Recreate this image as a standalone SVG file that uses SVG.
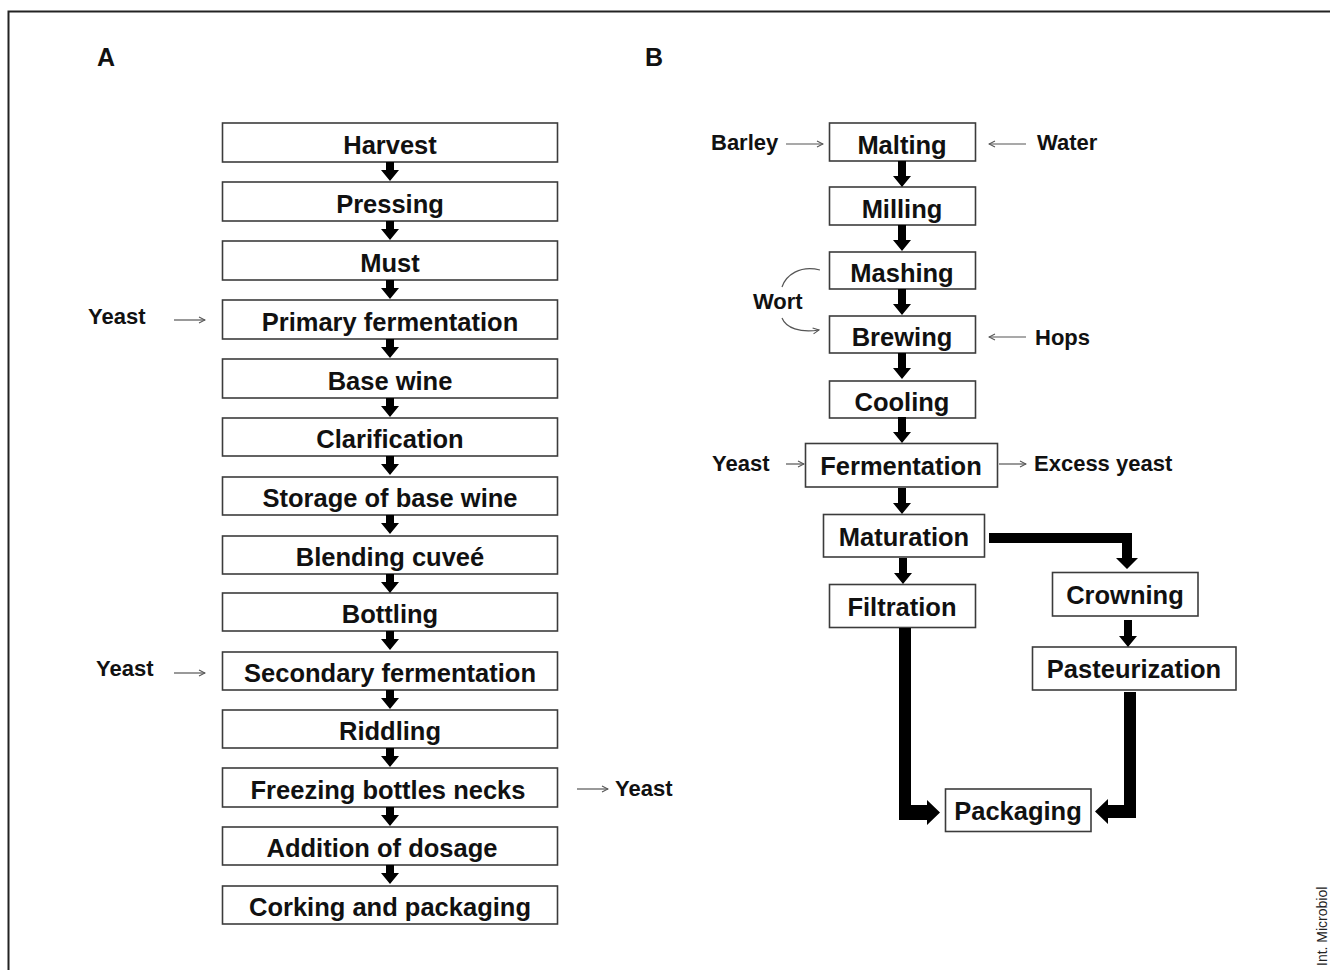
<svg xmlns="http://www.w3.org/2000/svg" width="1330" height="970" viewBox="0 0 1330 970">
<style>
.box{fill:#fff;stroke:#3c3c3c;stroke-width:1.6}
.t{font-family:"Liberation Sans",Arial,sans-serif;font-weight:bold;font-size:25.5px;fill:#111;text-anchor:middle}
.s{font-family:"Liberation Sans",Arial,sans-serif;font-weight:bold;font-size:22px;fill:#111}
.thin{fill:none;stroke:#555;stroke-width:1.2}
.blk{fill:#000}
</style>
<defs>
<path id="sa" d="M-4,0 h8 v8 h5 l-9,11 l-9,-11 h5 z"/>
<path id="sb" d="M-4,0 h8 v15 h5 l-9,11 l-9,-11 h5 z"/>
<marker id="oa" viewBox="0 0 8 8" refX="7" refY="4" markerWidth="8" markerHeight="8" markerUnits="userSpaceOnUse" orient="auto">
<path d="M1,1 L7,4 L1,7" fill="none" stroke="#555" stroke-width="1.1"/>
</marker>
</defs>
<rect width="1330" height="970" fill="#fff"/>
<path d="M8.5,970 V11.5 H1330" fill="none" stroke="#222" stroke-width="2"/>
<text x="97" y="66" class="s" style="font-size:25px">A</text>
<text x="645" y="66" class="s" style="font-size:25px">B</text>

<g id="a-harvest"><rect class="box" x="222.5" y="123" width="335" height="39"/><text class="t" x="390" y="154">Harvest</text></g>
<g id="a-pressing"><rect class="box" x="222.5" y="182" width="335" height="39"/><text class="t" x="390" y="213">Pressing</text></g>
<g id="a-must"><rect class="box" x="222.5" y="241" width="335" height="39"/><text class="t" x="390" y="272">Must</text></g>
<g id="a-primary"><rect class="box" x="222.5" y="300" width="335" height="39"/><text class="t" x="390" y="331">Primary fermentation</text></g>
<g id="a-base"><rect class="box" x="222.5" y="359" width="335" height="39"/><text class="t" x="390" y="390">Base wine</text></g>
<g id="a-clar"><rect class="box" x="222.5" y="418" width="335" height="38"/><text class="t" x="390" y="448">Clarification</text></g>
<g id="a-storage"><rect class="box" x="222.5" y="477" width="335" height="38"/><text class="t" x="390" y="507">Storage of base wine</text></g>
<g id="a-blend"><rect class="box" x="222.5" y="536" width="335" height="38"/><text class="t" x="390" y="566">Blending cuveé</text></g>
<g id="a-bottling"><rect class="box" x="222.5" y="593" width="335" height="38"/><text class="t" x="390" y="623">Bottling</text></g>
<g id="a-secondary"><rect class="box" x="222.5" y="652" width="335" height="38"/><text class="t" x="390" y="682">Secondary fermentation</text></g>
<g id="a-riddling"><rect class="box" x="222.5" y="710" width="335" height="38"/><text class="t" x="390" y="740">Riddling</text></g>
<g id="a-freezing"><rect class="box" x="222.5" y="768" width="335" height="39"/><text class="t" x="388" y="799">Freezing bottles necks</text></g>
<g id="a-dosage"><rect class="box" x="222.5" y="827" width="335" height="38"/><text class="t" x="382" y="857">Addition of dosage</text></g>
<g id="a-corking"><rect class="box" x="222.5" y="886" width="335" height="38"/><text class="t" x="390" y="916">Corking and packaging</text></g>

<g id="a-labels">
<text class="s" x="88" y="324">Yeast</text>
<text class="s" x="96" y="676">Yeast</text>
<text class="s" x="615" y="796">Yeast</text>
</g>

<g id="b-malting"><rect class="box" x="829.5" y="123" width="146" height="38"/><text class="t" x="902" y="154">Malting</text></g>
<g id="b-milling"><rect class="box" x="829.5" y="187" width="146" height="38"/><text class="t" x="902" y="218">Milling</text></g>
<g id="b-mashing"><rect class="box" x="829.5" y="252" width="146" height="37"/><text class="t" x="902" y="282">Mashing</text></g>
<g id="b-brewing"><rect class="box" x="829.5" y="316" width="146" height="37"/><text class="t" x="902" y="346">Brewing</text></g>
<g id="b-cooling"><rect class="box" x="829.5" y="381" width="146" height="37"/><text class="t" x="902" y="411">Cooling</text></g>
<g id="b-fermentation"><rect class="box" x="805.5" y="443.5" width="192" height="43.5"/><text class="t" x="901" y="475">Fermentation</text></g>
<g id="b-maturation"><rect class="box" x="823.5" y="514.5" width="161" height="42.5"/><text class="t" x="904" y="546">Maturation</text></g>
<g id="b-filtration"><rect class="box" x="829.5" y="584.5" width="146" height="43"/><text class="t" x="902" y="616">Filtration</text></g>
<g id="b-crowning"><rect class="box" x="1052.5" y="572.5" width="145.5" height="43.5"/><text class="t" x="1125" y="604">Crowning</text></g>
<g id="b-pasteurization"><rect class="box" x="1032.5" y="647" width="203.5" height="43"/><text class="t" x="1134" y="678">Pasteurization</text></g>
<g id="b-packaging"><rect class="box" x="945.5" y="789" width="145.5" height="42.5"/><text class="t" x="1018" y="820">Packaging</text></g>

<g id="b-labels">
<text class="s" x="711" y="150">Barley</text>
<text class="s" x="1037" y="150">Water</text>
<text class="s" x="753" y="309">Wort</text>
<text class="s" x="1035" y="345">Hops</text>
<text class="s" x="712" y="471">Yeast</text>
<text class="s" x="1034" y="471">Excess yeast</text>
</g>

<g id="connectors">
<use href="#sa" x="390" y="162"/>
<use href="#sa" x="390" y="221"/>
<use href="#sa" x="390" y="280"/>
<use href="#sa" x="390" y="339"/>
<use href="#sa" x="390" y="398"/>
<use href="#sa" x="390" y="456"/>
<use href="#sa" x="390" y="515"/>
<use href="#sa" x="390" y="574"/>
<use href="#sa" x="390" y="631"/>
<use href="#sa" x="390" y="690"/>
<use href="#sa" x="390" y="748"/>
<use href="#sa" x="390" y="807"/>
<use href="#sa" x="390" y="865"/>
<path class="thin" d="M174,320 H205" marker-end="url(#oa)"/>
<path class="thin" d="M174,673 H205" marker-end="url(#oa)"/>
<path class="thin" d="M577,789 H608" marker-end="url(#oa)"/>

<use href="#sb" x="902" y="161"/>
<use href="#sb" x="902" y="225"/>
<use href="#sb" x="902" y="289"/>
<use href="#sb" x="902" y="353"/>
<use href="#sb" x="902" y="417"/>
<use href="#sb" x="902" y="488"/>
<use href="#sb" x="903" y="558"/>
<path class="blk" d="M1124,620 h8 v16 h5 l-9,11 l-9,-11 h5 z"/>

<path class="thin" d="M786,144 H823" marker-end="url(#oa)"/>
<path class="thin" d="M1026,144 H989" marker-end="url(#oa)"/>
<path class="thin" d="M1026,337 H989" marker-end="url(#oa)"/>
<path class="thin" d="M786,464 H804" marker-end="url(#oa)"/>
<path class="thin" d="M999,464 H1026" marker-end="url(#oa)"/>
<path class="thin" d="M820,270 C800,265 786,275 782,287"/>
<path class="thin" d="M782,318 C786,328 800,333 819,330" marker-end="url(#oa)"/>

<path class="blk" d="M989,533 H1132 V558 H1138 L1127,569 L1116,558 H1122 V543 H989 Z"/>
<path class="blk" d="M899,628 H911 V805 H927 V800 L940,812.5 L927,825 V820 H899 Z"/>
<path class="blk" d="M1124,692 H1136 V818 H1108 V824 L1095,811.5 L1108,799 V805 H1124 Z"/>
</g>
<text transform="translate(1327,966) rotate(-90)" style="font-family:'Liberation Sans',Arial,sans-serif;font-size:14px;fill:#222">Int. Microbiol</text>
</svg>
